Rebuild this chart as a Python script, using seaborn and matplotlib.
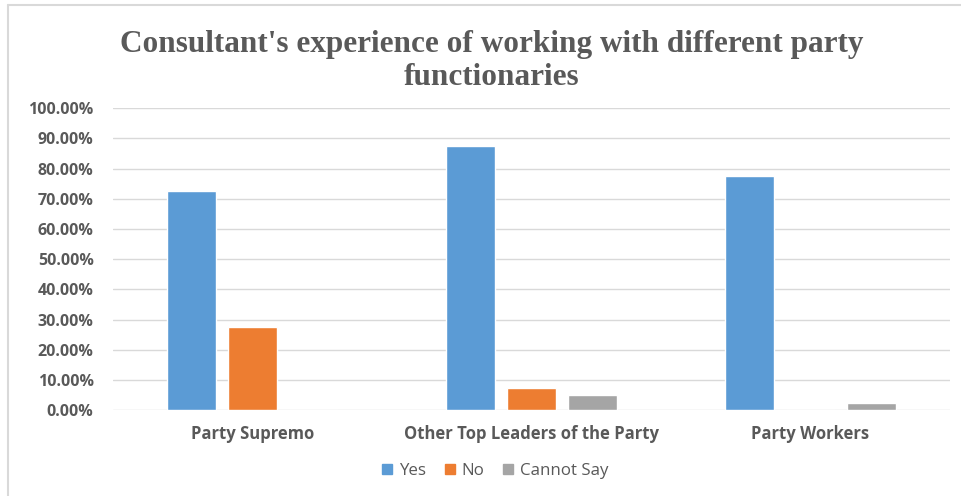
import matplotlib
matplotlib.use("Agg")
import matplotlib.pyplot as plt
import seaborn as sns
import pandas as pd
from matplotlib.ticker import PercentFormatter
from matplotlib.lines import Line2D

categories = ["Party Supremo", "Other Top Leaders of the Party", "Party Workers"]
series = ["Yes", "No", "Cannot Say"]
yes_vals = [0.725, 0.875, 0.775]
no_vals = [0.275, 0.075, 0.0]
cannot_vals = [0.0, 0.05, 0.025]
colors = ["#5B9BD5", "#ED7D31", "#A5A5A5"]
title = "Consultant's experience of working with different party\nfunctionaries"

rows = []
for s, vals in zip(series, [yes_vals, no_vals, cannot_vals]):
    for c, v in zip(categories, vals):
        rows.append({"Category": c, "Series": s, "Value": v})
df = pd.DataFrame(rows)

sns.set_theme(style="white")
plt.rcParams["font.family"] = ["Open Sans", "DejaVu Sans"]

fig = plt.figure(figsize=(9.62, 4.96), dpi=100)
ax = fig.add_axes([0.1175, 0.173, 0.870, 0.609])

sns.barplot(data=df, x="Category", y="Value", hue="Series", order=categories,
            hue_order=series, palette=colors, width=0.656, gap=0.21,
            saturation=1, ax=ax, legend=False)

ax.set_ylim(0, 1.0)
ax.set_yticks([i / 10 for i in range(11)])
ax.yaxis.set_major_formatter(PercentFormatter(1.0, decimals=2))
ax.grid(axis="y", color="#D9D9D9", linewidth=1)
ax.set_axisbelow(True)
for sp in ax.spines.values():
    sp.set_visible(False)
ax.set_xlabel("")
ax.set_ylabel("")
ax.tick_params(axis="y", length=0, pad=14, labelsize=11.5, labelcolor="#595959")
ax.tick_params(axis="x", length=0, pad=11, labelsize=12, labelcolor="#595959")
for lab in ax.get_yticklabels() + ax.get_xticklabels():
    lab.set_fontweight("bold")

fig.text(0.511, 0.877, title, ha="center", va="center", fontsize=22.5,
         fontweight="bold", color="#595959", family=["Liberation Serif"],
         linespacing=1.15)

handles = [Line2D([0], [0], marker="s", linestyle="none", markersize=6.5,
                  markerfacecolor=c, markeredgecolor=c) for c in colors]
fig.legend(handles, series, loc="center", bbox_to_anchor=(0.514, 0.050),
           ncol=3, frameon=False, fontsize=12.2, handlelength=0.8,
           handletextpad=0.3, columnspacing=1.0, labelcolor="#595959")

# outer chart border (left and top visible)
fig.add_artist(Line2D([0.008, 0.008], [0.0, 0.99], transform=fig.transFigure,
                      color="#D9D9D9", linewidth=1.5))
fig.add_artist(Line2D([0.008, 1.0], [0.99, 0.99], transform=fig.transFigure,
                      color="#D9D9D9", linewidth=1.5))

fig.savefig("out.png", dpi=100, facecolor="white")
